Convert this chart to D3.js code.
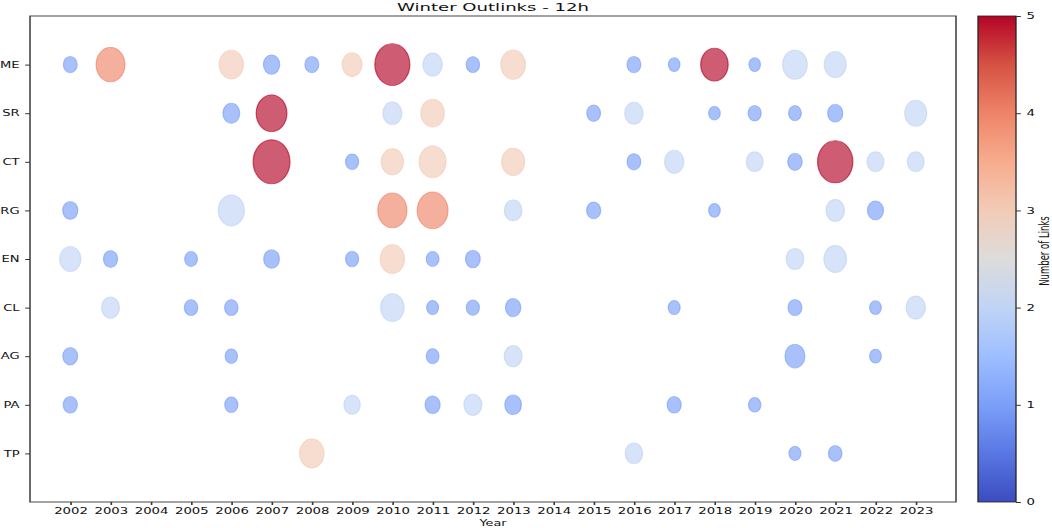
<!DOCTYPE html>
<html>
<head>
<meta charset="utf-8">
<script src="https://cdn.jsdelivr.net/npm/d3@7"></script>
<style>
  html, body { margin: 0; padding: 0; background: #fff; }
  text { font-family: "DejaVu Sans", sans-serif; fill: #111; }
</style>
</head>
<body>
<div id="chart"></div>
<script>
// categories, top to bottom
const categories = ["ME", "SR", "CT", "RG", "EN", "CL", "AG", "PA", "TP"];
const years = [2002, 2003, 2004, 2005, 2006, 2007, 2008, 2009, 2010, 2011, 2012,
               2013, 2014, 2015, 2016, 2017, 2018, 2019, 2020, 2021, 2022, 2023];
const linkTicks = [0, 1, 2, 3, 4, 5];

// [year, number of links, weight]
const rowME = [[2002,1,1.0],[2003,4,4.4],[2006,3,3.1],[2007,1,1.4],[2008,1,1.0],[2009,3,2.1],
               [2010,5,6.5],[2011,2,2.0],[2012,1,0.95],[2013,3,3.2],[2016,1,1.0],[2017,1,0.7],
               [2018,5,4.0],[2019,1,0.7],[2020,2,3.2],[2021,2,2.55]];
const rowSR = [[2006,1,1.5],[2007,5,5.0],[2010,2,1.9],[2011,3,2.9],[2015,1,1.0],[2016,2,1.8],
               [2018,1,0.7],[2019,1,0.9],[2020,1,0.85],[2021,1,1.2],[2023,2,2.55]];
const rowCT = [[2007,5,7.2],[2009,1,0.9],[2010,3,2.6],[2011,3,3.8],[2013,3,2.8],[2016,1,1.0],
               [2017,2,2.0],[2019,2,1.5],[2020,1,1.1],[2021,5,6.6],[2022,2,1.5],[2023,2,1.5]];
const rowRG = [[2002,1,1.2],[2006,2,3.6],[2010,4,4.5],[2011,4,5.0],[2013,2,1.65],[2015,1,1.05],
               [2018,1,0.7],[2021,2,1.8],[2022,1,1.35]];
const rowEN = [[2002,2,2.35],[2003,1,1.05],[2005,1,0.85],[2007,1,1.3],[2009,1,0.9],[2010,3,3.1],
               [2011,1,0.85],[2012,1,1.15],[2020,2,1.65],[2021,2,2.7]];
const rowCL = [[2003,2,1.7],[2005,1,0.95],[2006,1,0.95],[2010,2,2.9],[2011,1,0.75],[2012,1,0.9],
               [2013,1,1.25],[2017,1,0.75],[2020,1,1.0],[2022,1,0.72],[2023,2,2.0]];
const rowAG = [[2002,1,1.15],[2006,1,0.8],[2011,1,0.85],[2013,2,1.7],[2020,1,2.1],[2022,1,0.72]];
const rowPA = [[2002,1,1.05],[2006,1,0.9],[2009,2,1.4],[2011,1,1.2],[2012,2,1.7],[2013,1,1.45],
               [2017,1,1.05],[2019,1,0.8]];
const rowTP = [[2008,3,3.15],[2016,2,1.6],[2020,1,0.75],[2021,1,0.95]];

const rows = [rowME, rowSR, rowCT, rowRG, rowEN, rowCL, rowAG, rowPA, rowTP];

// coolwarm stops
const coolwarmStops = ["#3b4cc0", "#5977e3", "#7b9ff9", "#9ebeff", "#c0d4f5", "#dddcdc",
                       "#f2cbb7", "#f7ac8e", "#ee8468", "#d65244", "#b40426"];

function init() {
    const w = 1052, h = 528;
    const K = 1.6; // picture is stretched sideways
    const plotL = 30, plotR = 956, plotT = 16, plotB = 502;

    const coolwarm = d3.scaleLinear()
        .domain(d3.range(coolwarmStops.length).map(i => i / (coolwarmStops.length - 1)))
        .range(coolwarmStops);
    const color = v => coolwarm(v / 5);

    const svg = d3.select("#chart").append("svg")
        .attr("width", w)
        .attr("height", h);

    const root = svg.append("g").attr("transform", `scale(${K},1)`);

    const x = d3.scaleLinear().domain([2001, 2024]).range([plotL / K, plotR / K]);
    const y = d3.scaleLinear().domain([-1, 9]).range([plotT, plotB]);
    const r = d3.scaleSqrt().domain([0, 1]).range([0, 6.85]); // screen px

    // bubbles
    const flat = [];
    rows.forEach((row, i) => row.forEach(d => flat.push({ cat: i, year: d[0], links: d[1], weight: d[2] })));

    root.append("g")
        .selectAll("ellipse")
        .data(flat)
        .enter()
        .append("ellipse")
        .attr("cx", d => x(d.year))
        .attr("cy", d => y(d.cat))
        .attr("rx", d => r(d.weight) / K)
        .attr("ry", d => r(d.weight) * 1.2)
        .attr("fill", d => color(d.links))
        .attr("fill-opacity", 0.65)
        .attr("stroke", d => color(d.links))
        .attr("stroke-opacity", 0.65)
        .attr("stroke-width", 0.8);

    // axes
    const xAxis = d3.axisBottom(x)
        .tickValues(years)
        .tickFormat(d3.format("d"))
        .tickSize(3)
        .tickPadding(2.7);
    const gx = root.append("g")
        .attr("transform", `translate(0,${plotB})`)
        .call(xAxis);
    gx.select(".domain").remove();
    gx.selectAll("text").attr("font-size", "8.3px").attr("fill", "#111");
    gx.selectAll("line").attr("stroke", "#333");

    const yAxis = d3.axisLeft(y)
        .tickValues(d3.range(categories.length))
        .tickFormat(i => categories[i])
        .tickSize(3)
        .tickPadding(3.5);
    const gy = root.append("g")
        .attr("transform", `translate(${plotL / K},0)`)
        .call(yAxis);
    gy.select(".domain").remove();
    gy.selectAll("text").attr("font-size", "8.2px").attr("fill", "#111");
    gy.selectAll("line").attr("stroke", "#333");

    // frame
    root.append("rect")
        .attr("x", plotL / K)
        .attr("y", plotT)
        .attr("width", (plotR - plotL) / K)
        .attr("height", plotB - plotT)
        .attr("fill", "none")
        .attr("stroke", "#333")
        .attr("stroke-width", 0.9);

    // title and x label
    root.append("text")
        .attr("x", (plotL + plotR) / 2 / K)
        .attr("y", 11)
        .attr("text-anchor", "middle")
        .attr("font-size", "11.3px")
        .text("Winter Outlinks - 12h");

    root.append("text")
        .attr("x", (plotL + plotR) / 2 / K)
        .attr("y", 526)
        .attr("text-anchor", "middle")
        .attr("font-size", "8px")
        .text("Year");

    // colorbar
    const cbL = 978, cbR = 1016;
    const cb = d3.scaleLinear().domain([0, 5]).range([plotB, plotT]);

    const grad = svg.append("defs").append("linearGradient")
        .attr("id", "cw")
        .attr("x1", 0).attr("y1", 1)
        .attr("x2", 0).attr("y2", 0);
    grad.selectAll("stop")
        .data(coolwarmStops)
        .enter()
        .append("stop")
        .attr("offset", (d, i) => i / (coolwarmStops.length - 1))
        .attr("stop-color", d => d);

    root.append("rect")
        .attr("x", cbL / K)
        .attr("y", plotT)
        .attr("width", (cbR - cbL) / K)
        .attr("height", plotB - plotT)
        .attr("fill", "url(#cw)")
        .attr("stroke", "#222")
        .attr("stroke-width", 0.8);

    const cAxis = d3.axisRight(cb)
        .tickValues(linkTicks)
        .tickFormat(d3.format("d"))
        .tickSize(3)
        .tickPadding(3.5);
    const gc = root.append("g")
        .attr("transform", `translate(${cbR / K},0)`)
        .call(cAxis);
    gc.select(".domain").remove();
    gc.selectAll("text").attr("font-size", "8.3px").attr("fill", "#111");
    gc.selectAll("line").attr("stroke", "#333");

    root.append("text")
        .attr("transform", `translate(${1049 / K},251) rotate(-90)`)
        .attr("text-anchor", "middle")
        .attr("font-size", "8.5px")
        .text("Number of Links");
}

window.onload = init;
</script>
</body>
</html>
